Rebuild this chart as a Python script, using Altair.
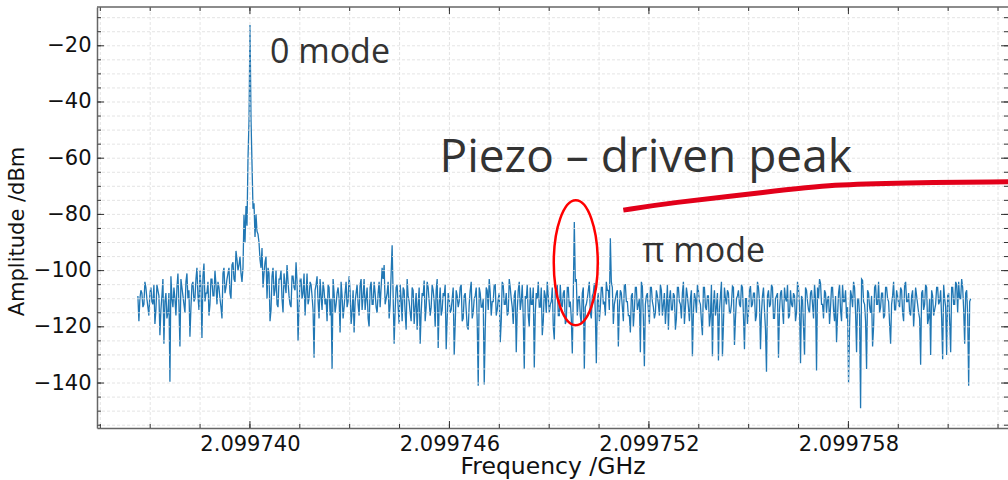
import altair as alt
import pandas as pd

# ---------------- data ----------------
freq_start = 2.09973663      # GHz, first sample
freq_step = 3.0105e-8        # GHz between samples

# samples at even positions of the sweep
amp_even = [
    -109, -110, -108, -112, -106, -113, -108, -111, -105, -114, -107, -123, -109, -126, -108, -115, -139.5, -110, -106, -116,
    -101, -127, -106, -112, -104, -110, -123.5, -105, -111, -103, -109, -100, -124, -97.5, -108, -104, -112, -103, -109, -105,
    -104, -110, -117, -99, -106, -101, -108, -98, -103, -93, -100, -95, -104, -80, -77, -60, -12.6, -62, -76, -80,
    -87, -96, -92, -101, -95, -99, -118, -102, -109, -100, -113, -103, -110, -101, -108, -104, -112, -102, -106, -97,
    -125, -103, -110, -101, -108, -112, -104, -109, -131, -105, -111, -103, -114, -107, -110, -105, -116, -135, -108, -112,
    -106, -122, -109, -113, -104, -111, -107, -115, -122, -108, -112, -105, -114, -103, -110, -117, -106, -112, -104, -113,
    -108, -113, -99, -98, -110, -104, -112, -91, -126, -106, -113, -105, -118, -107, -121, -109, -115, -106, -119, -108,
    -112, -126, -108, -103.5, -113, -106, -116, -105, -111, -107, -127.5, -106, -114, -109, -128, -108, -115, -110, -130, -107,
    -113, -106, -118, -109, -114, -121, -107, -117, -110, -106, -141, -108, -113, -140.5, -106, -114, -108, -111, -105, -116,
    -110, -125.5, -104, -112, -108, -115, -106, -113, -109, -129, -107, -114, -105, -135, -110, -116, -106, -112, -134.5, -108,
    -104, -113, -123, -107, -115, -109, -112, -106, -124.5, -108, -116, -105, -113, -107, -118, -106, -111, -129.5, -82.7, -103,
    -110, -116, -108, -135, -112, -107, -115, -109, -104.5, -133, -108, -113, -106, -111, -104, -107, -88.5, -106, -112, -108,
    -127, -107, -113, -105, -111, -116, -122, -108, -114, -106, -112, -129, -105.5, -134, -109, -114, -106, -111, -117, -107,
    -112, -105, -116, -108, -113, -121, -107, -114, -109, -117, -106, -112, -108, -119, -106, -113, -110, -130.5, -108, -115,
    -107, -112, -123, -106, -114, -109, -116, -130.5, -107, -113, -132, -109, -130.5, -106, -112, -108, -115, -105.5, -126.5, -110,
    -107, -113, -106, -128, -110, -115, -105.5, -112, -108, -116, -106, -128, -109, -114, -136, -107, -112, -106, -117, -109,
    -131, -108, -114, -106, -111, -117, -107, -113, -109, -115, -106, -133, -110, -130, -107, -114, -108, -112, -105, -135.5,
    -110, -104.5, -112, -107, -115, -109, -113, -106, -118, -125.5, -108, -114, -105, -111, -117, -140, -107, -113, -106, -129,
    -110, -149, -103.5, -112, -135, -108, -115, -127, -106, -112, -104, -113, -108, -116, -106, -111, -126, -109, -114, -107,
    -112, -106, -115, -105, -111, -108, -116, -107, -113, -109, -115, -133.5, -107, -112, -106, -117, -130, -109, -114, -106,
    -112, -107, -131.5, -110, -130, -108, -129, -106, -112, -105, -104, -110, -106, -126, -107, -141, -110,
]

# samples at odd positions of the sweep
amp_odd = [
    -118, -107, -113, -104, -110, -116, -106, -112, -119, -105, -109, -114, -103, -111, -117, -108, -102, -113, -110, -106,
    -112, -103, -109, -115, -101, -107, -113, -104, -110, -99, -114, -106, -102, -111, -108, -116, -103, -109, -100, -112,
    -106, -113, -101, -108, -103, -99, -110, -97, -104, -96, -98, -101, -99, -90, -84, -47, -46, -78, -88, -86,
    -90, -99, -106, -97, -110, -101, -114, -99, -107, -112, -103, -100, -115, -105, -98, -109, -113, -102, -107, -104,
    -113, -103, -108, -116, -101, -110, -105, -114, -107, -102, -117, -109, -104, -112, -118, -106, -110, -103, -115, -108,
    -110, -104, -117, -108, -113, -102, -119, -107, -111, -105, -116, -103, -109, -114, -106, -120, -104, -112, -108, -115,
    -104, -106, -103, -112, -108, -117, -101, -109, -114, -105, -119, -110, -106, -115, -103, -111, -118, -107, -113, -121,
    -106, -115, -109, -118, -104, -111, -113, -107, -120, -103, -112, -116, -108, -105, -117, -110, -114, -106, -119, -109,
    -111, -105, -117, -108, -120, -112, -104, -115, -109, -118, -106, -113, -110, -121, -107, -103, -116, -111, -105, -114,
    -108, -118, -105, -112, -116, -103, -110, -119, -107, -114, -104, -111, -117, -109, -105, -120, -112, -106, -115, -110,
    -113, -106, -118, -109, -104, -115, -111, -120, -107, -105, -116, -112, -108, -119, -106, -113, -117, -108, -104, -116,
    -109, -119, -106, -113, -110, -104, -117, -108, -115, -111, -118, -106, -112, -116, -107, -114, -104, -119, -110, -107,
    -113, -108, -118, -105, -111, -116, -109, -120, -106, -114, -110, -104, -117, -112, -108, -119, -106, -113, -115, -109,
    -116, -107, -112, -119, -105, -110, -114, -108, -121, -106, -111, -117, -104, -113, -109, -118, -107, -115, -110, -105,
    -111, -118, -106, -113, -109, -120, -105, -112, -116, -108, -114, -104, -119, -110, -107, -115, -112, -106, -117, -109,
    -112, -105, -116, -110, -119, -107, -113, -108, -118, -104, -111, -115, -106, -121, -109, -113, -105, -117, -110, -108,
    -114, -107, -119, -110, -105, -116, -112, -108, -118, -104, -113, -109, -120, -106, -111, -115, -107, -117, -110, -106,
    -103, -112, -117, -108, -110, -119, -106, -114, -109, -116, -105, -118, -111, -107, -113, -120, -109, -104, -115, -110,
    -116, -103, -111, -118, -107, -113, -109, -120, -105, -112, -115, -108, -117, -106, -110, -119, -112, -104, -114, -109,
    -113, -107, -118, -104, -111, -115, -109, -120, -106, -112, -117, -108, -114, -105, -119, -110, -107, -116, -112, -106,
    -111, -117, -105, -113, -109, -118, -106, -112, -104, -115, -110, -103, -114, -108, -116, -111,
]

x_major = [2.099740, 2.099746, 2.099752, 2.099758]
x_minor = [round(2.0997355 + k * 1.5e-6, 7) for k in range(19)]
y_major = [-140, -120, -100, -80, -60, -40, -20]
y_minor = list(range(-155, -5, 5))

# annotations
label_freq = [2.0997406, 2.0997518]
label_amp = [-26.2, -97.0]
label_text = ["0 mode", "π mode"]
big_label_freq = [2.0997457]
big_label_amp = [-64.9]
big_label_text = ["Piezo – driven peak"]
ellipse_freq = [2.0997498]
ellipse_amp = [-97.2]
arrow_freq = [2.09975123, 2.09975258, 2.09975559, 2.09975761, 2.09975957, 2.09976282]
arrow_amp = [-78.47, -75.98, -71.95, -69.32, -68.75, -68.40]

# ---------------- chart ----------------
W, H = 911, 421
xs = alt.Scale(domain=[2.0997354, 2.0997628], nice=False, zero=False)
ys = alt.Scale(domain=[-156.0, -6.2], nice=False, zero=False)

amplitude = []
for e, o in zip(amp_even, amp_odd):
    amplitude += [e, o]
amplitude += amp_even[len(amp_odd):]

spec_df = pd.DataFrame({
    "freq": [freq_start + i * freq_step for i in range(len(amplitude))],
    "amp": amplitude,
})

AX_FONT = "DejaVu Sans"

line = alt.Chart(spec_df).mark_line(color="#2077b4", strokeWidth=1.3, clip=True).encode(
    x=alt.X("freq:Q", scale=xs, axis=alt.Axis(
        values=x_major, format=".6f", title="Frequency /GHz", ticks=False, grid=False,
        domain=True, domainColor="#666666", domainWidth=1.5,
        labelFont=AX_FONT, labelFontSize=21, labelColor="#111111", labelPadding=5,
        titleFont=AX_FONT, titleFontSize=23.5, titleFontWeight="normal", titleColor="#111111",
        titleY=45, titleBaseline="alphabetic")),
    y=alt.Y("amp:Q", scale=ys, axis=alt.Axis(
        values=y_major, title="Amplitude /dBm", ticks=False, grid=False,
        domain=True, domainColor="#666666", domainWidth=1.5,
        labelFont=AX_FONT, labelFontSize=21, labelColor="#111111", labelPadding=6,
        titleFont=AX_FONT, titleFontSize=21, titleFontWeight="normal", titleColor="#111111",
        titleX=-80, titleY=224, titleBaseline="middle", titleAlign="center")),
)

gx = alt.Chart(pd.DataFrame({"freq": x_minor})).mark_rule(
    color="#dddddd", strokeWidth=0.8, strokeDash=[3, 2]).encode(
    x=alt.X("freq:Q", scale=xs), y=alt.value(0), y2=alt.value(H))
gy = alt.Chart(pd.DataFrame({"amp": y_minor})).mark_rule(
    color="#dddddd", strokeWidth=0.8, strokeDash=[3, 2]).encode(
    y=alt.Y("amp:Q", scale=ys), x=alt.value(0), x2=alt.value(W))

def xticks(vals, y0, y1):
    return alt.Chart(pd.DataFrame({"freq": vals})).mark_rule(color="#333333", strokeWidth=1).encode(
        x=alt.X("freq:Q", scale=xs), y=alt.value(y0), y2=alt.value(y1))

def yticks(vals, x0, x1):
    return alt.Chart(pd.DataFrame({"amp": vals})).mark_rule(color="#333333", strokeWidth=1).encode(
        y=alt.Y("amp:Q", scale=ys), x=alt.value(x0), x2=alt.value(x1))

ticks = [
    xticks(x_major, H, H - 7), xticks(x_minor, H, H - 4),
    xticks(x_major, 0, 7), xticks(x_minor, 0, 4),
    yticks(y_major, 0, 7), yticks(y_minor, 0, 4),
    yticks(y_major, W, W - 7), yticks(y_minor, W, W - 4),
]

top_spine = alt.Chart(pd.DataFrame({"k": [0]})).mark_rule(color="#666666", strokeWidth=1.5).encode(
    x=alt.value(0), x2=alt.value(W), y=alt.value(0))

labels = alt.Chart(pd.DataFrame({"freq": label_freq, "amp": label_amp, "t": label_text})).mark_text(
    align="left", baseline="alphabetic", font="Open Sans", fontSize=34, color="#333333").encode(
    x=alt.X("freq:Q", scale=xs), y=alt.Y("amp:Q", scale=ys), text="t:N")

big_label = alt.Chart(pd.DataFrame({"freq": big_label_freq, "amp": big_label_amp, "t": big_label_text})).mark_text(
    align="left", baseline="alphabetic", font="Open Sans", fontSize=46, color="#333333").encode(
    x=alt.X("freq:Q", scale=xs), y=alt.Y("amp:Q", scale=ys), text="t:N")

ellipse = alt.Chart(pd.DataFrame({"freq": ellipse_freq, "amp": ellipse_amp})).mark_point(
    shape="M -0.352 0 A 0.352 1 0 1 1 0.352 0 A 0.352 1 0 1 1 -0.352 0 Z",
    size=15625, filled=False, color="#ff0000", strokeWidth=2.5, opacity=1).encode(
    x=alt.X("freq:Q", scale=xs), y=alt.Y("amp:Q", scale=ys))

arrow = alt.Chart(pd.DataFrame({"freq": arrow_freq, "amp": arrow_amp})).mark_line(
    color="#e2001a", strokeWidth=5, interpolate="basis").encode(
    x=alt.X("freq:Q", scale=xs), y=alt.Y("amp:Q", scale=ys))

chart = alt.layer(line, gx, gy, *ticks, top_spine, ellipse, arrow, labels, big_label).properties(
    width=W, height=H,
    padding={"left": 97, "top": 7, "right": 0, "bottom": 52},
    autosize=alt.AutoSizeParams(type="none"),
    background="white",
).configure_view(stroke="transparent").configure_axis(grid=False, ticks=False)

chart.save("out.html", embed_options={"renderer": "svg", "actions": False})
